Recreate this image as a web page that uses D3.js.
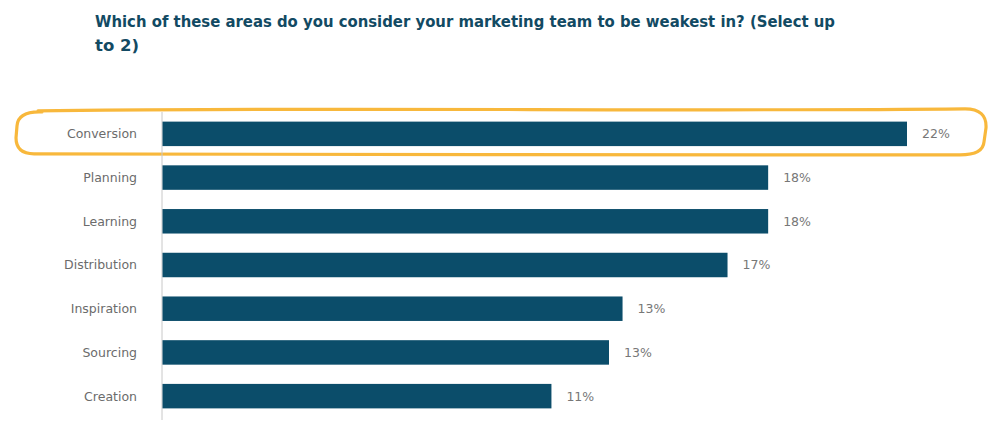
<!DOCTYPE html>
<html><head><meta charset="utf-8">
<script src="https://cdn.jsdelivr.net/npm/d3@7"></script>
<style>body{margin:0;background:#fff}svg{display:block}</style>
</head><body>
<svg id="c" width="1001" height="425"></svg>
<script>
const titleLines = ["Which of these areas do you consider your marketing team to be weakest in? (Select up", "to 2)"];
const categories = ["Conversion", "Planning", "Learning", "Distribution", "Inspiration", "Sourcing", "Creation"];
const values = [22, 17.9, 17.9, 16.7, 13.6, 13.2, 11.5];
const valueLabels = ["22%", "18%", "18%", "17%", "13%", "13%", "11%"];
const highlighted = ["Conversion"];

(function(){
const svg = d3.select("#c");
const mLeft = 162, mRight = 907, mTop = 112, mBottom = 418;

svg.append("g").selectAll("text").data(titleLines).join("text")
  .attr("x", 95).attr("y", (d, i) => 27 + i * 24)
  .attr("fill", "#124a63").attr("font-family", "'DejaVu Sans', sans-serif")
  .attr("font-weight", "bold").attr("font-size", 16.5)
  .text(d => d)
  .each(function(d, i){ if (i === 0) { d3.select(this).attr("textLength", 740).attr("lengthAdjust", "spacingAndGlyphs"); } });

const x = d3.scaleLinear().domain([0, 22]).range([mLeft, mRight]);
const y = d3.scaleBand().domain(categories).range([mTop, mBottom]).paddingInner(0.44).paddingOuter(0.22);

categories.filter(c => highlighted.includes(c)).forEach(c => {
  const cy = y(c) + y.bandwidth() / 2;
  const x0 = 16, x1 = 985, y0 = cy - 24, y1 = cy + 20;
  const p = d3.path();
  p.moveTo(x0 + 22, y0 + 1);
  p.bezierCurveTo(300, y0 - 3, 700, y0 + 2, x1 - 20, y0 - 1);
  p.quadraticCurveTo(x1 + 2, y0 - 1, x1 + 1, y0 + 18);
  p.lineTo(x1 - 1, y1 - 12);
  p.quadraticCurveTo(x1 - 2, y1 + 1, x1 - 25, y1 + 1);
  p.bezierCurveTo(700, y1 + 3, 300, y1 - 1, x0 + 18, y1);
  p.quadraticCurveTo(x0, y1, x0, y1 - 16);
  p.lineTo(x0 + 1, y0 + 16);
  p.quadraticCurveTo(x0 + 2, y0 + 1, x0 + 26, y0 + 2);
  svg.append("path").attr("d", p.toString()).attr("fill", "none")
    .attr("stroke", "#f8b83c").attr("stroke-width", 3.2).attr("stroke-linecap", "round").attr("stroke-linejoin", "round");
});

svg.append("line").attr("x1", mLeft).attr("x2", mLeft).attr("y1", mTop).attr("y2", 420)
  .attr("stroke", "#c8c8c8").attr("stroke-width", 1);

svg.append("g").selectAll("rect").data(categories).join("rect")
  .attr("x", x(0) + 0.5).attr("y", d => y(d))
  .attr("width", (d, i) => x(values[i]) - x(0) - 0.5)
  .attr("height", y.bandwidth()).attr("fill", "#0b4d6a");

svg.append("g").selectAll("text").data(categories).join("text")
  .attr("x", 137).attr("y", d => y(d) + y.bandwidth() / 2).attr("dy", "0.35em")
  .attr("text-anchor", "end").attr("fill", "#6b6b6b")
  .attr("font-family", "'DejaVu Sans', sans-serif").attr("font-size", 12.5)
  .text(d => d);

svg.append("g").selectAll("text").data(categories).join("text")
  .attr("x", (d, i) => x(values[i]) + 15).attr("y", d => y(d) + y.bandwidth() / 2).attr("dy", "0.35em")
  .attr("fill", "#777").attr("font-family", "'DejaVu Sans', sans-serif").attr("font-size", 12.5)
  .text((d, i) => valueLabels[i]);
})();
</script>
</body></html>
